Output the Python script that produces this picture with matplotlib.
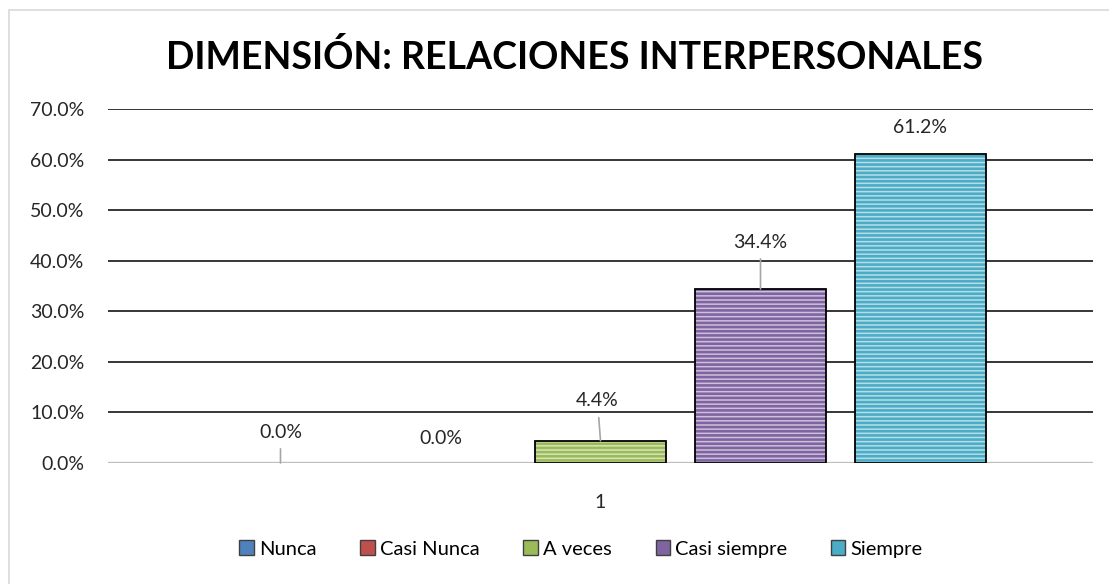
import matplotlib.pyplot as plt
from matplotlib.patches import Rectangle

plt.rcParams['font.family'] = ['Lato', 'DejaVu Sans']
plt.rcParams['hatch.linewidth'] = 1.9

# data
categorias = ['Nunca', 'Casi Nunca', 'A veces', 'Casi siempre', 'Siempre']
porcentajes = [0.0, 0.0, 4.4, 34.4, 61.2]
etiquetas = ['0.0%', '0.0%', '4.4%', '34.4%', '61.2%']
grupo = ['1']
yticks = [0, 10, 20, 30, 40, 50, 60, 70]

colores = ['#4F81BD', '#C0504D', '#9BBB59', '#8064A2', '#4BACC6']
claros = ['#DCE6F2', '#F2DCDB', '#D7E4BD', '#CCC1DA', '#B7DEE8']
# label offsets (pixels above bar top) and whether a leader line is drawn
off_y = [31, 25, 40, 47, 26]
off_x = [0, 0, -3, 0, 0]
guia = [True, False, True, True, False]

fig = plt.figure(figsize=(11.09, 5.84), dpi=100)
fig.patches.append(Rectangle((9 / 1109, -0.1), 1.2, 1 - 10 / 584 + 0.1,
                             transform=fig.transFigure, fill=False,
                             edgecolor='#D9D9D9', lw=1.2))

ax = fig.add_axes([108 / 1109, 1 - 463 / 584, 985 / 1109, 354 / 584])

paso = 160 / 985
ancho = 131 / 985
proxies = []
for i, (cat, val) in enumerate(zip(categorias, porcentajes)):
    x = (i - 2) * paso
    ax.bar(x, val, width=ancho, color=claros[i], edgecolor=colores[i],
           hatch='----', lw=0, zorder=3)
    if val > 0:
        ax.bar(x, val, width=ancho, fill=False, edgecolor='black', lw=1.3, zorder=4)
    ap = dict(arrowstyle='-', color='#A6A6A6', lw=1.2, shrinkA=4, shrinkB=0) if guia[i] else None
    ax.annotate(etiquetas[i], xy=(x, val), xytext=(off_x[i], off_y[i]),
                textcoords='offset pixels', ha='center', va='center',
                fontsize=14, color='#262626', arrowprops=ap, zorder=5)
    proxies.append(Rectangle((0, 0), 1, 1, facecolor=colores[i],
                             edgecolor='#404040', lw=1.0, label=cat))

ax.set_xlim(-0.5, 0.5)
ax.set_ylim(0, 70)
ax.set_yticks(yticks)
ax.set_yticklabels([f'{v:.1f}%' for v in yticks])
ax.set_xticks([0])
ax.set_xticklabels(grupo)
ax.tick_params(length=0, labelsize=14, labelcolor='#262626')
ax.tick_params(axis='y', pad=17)
ax.tick_params(axis='x', pad=22)
for v in yticks[1:]:
    ax.axhline(v, color='black', lw=1.1, zorder=1)
ax.axhline(0, color='#BFBFBF', lw=2.4, zorder=2)
for s in ax.spines.values():
    s.set_visible(False)

fig.text(574 / 1109, 1 - 57 / 584, 'DIMENSIÓN: RELACIONES INTERPERSONALES',
         ha='center', va='center', fontsize=27, fontweight='bold', color='black')

fig.legend(handles=proxies, loc='center', bbox_to_anchor=(581 / 1109, 1 - 549 / 584),
           ncol=5, frameon=False, fontsize=14.5, handlelength=0.7,
           handleheight=0.7, handletextpad=0.25, columnspacing=2.2)

fig.savefig('out.png', dpi=100)
